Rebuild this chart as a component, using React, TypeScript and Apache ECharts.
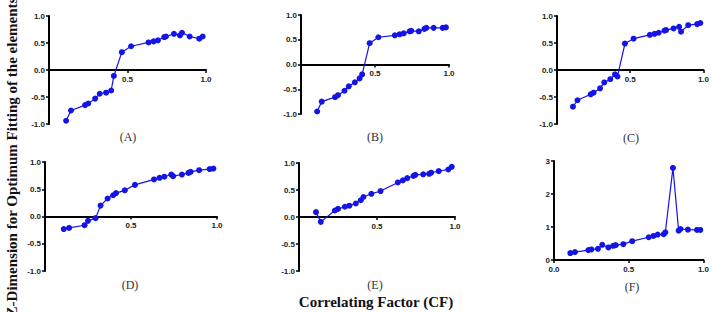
import React, { useEffect, useRef } from "react";
import * as echarts from "echarts";

const cfValues = [0.109, 0.14, 0.23, 0.25, 0.294, 0.323, 0.364, 0.396, 0.413, 0.464, 0.523, 0.634, 0.666, 0.694, 0.734, 0.745, 0.796, 0.834, 0.847, 0.896, 0.957, 0.979];

const seriesA = [-0.94, -0.75, -0.65, -0.62, -0.53, -0.44, -0.42, -0.38, -0.11, 0.33, 0.44, 0.51, 0.53, 0.55, 0.61, 0.62, 0.67, 0.64, 0.69, 0.62, 0.58, 0.62];
const seriesB = [-0.95, -0.75, -0.66, -0.62, -0.53, -0.44, -0.36, -0.28, -0.2, 0.43, 0.55, 0.59, 0.61, 0.63, 0.67, 0.68, 0.67, 0.72, 0.74, 0.74, 0.74, 0.75];
const seriesC = [-0.68, -0.56, -0.45, -0.42, -0.34, -0.23, -0.17, -0.08, -0.12, 0.49, 0.58, 0.65, 0.67, 0.69, 0.73, 0.74, 0.77, 0.8, 0.71, 0.83, 0.85, 0.87];
const seriesD = [-0.23, -0.21, -0.16, -0.08, -0.03, 0.2, 0.33, 0.39, 0.43, 0.48, 0.58, 0.68, 0.71, 0.73, 0.77, 0.74, 0.77, 0.8, 0.82, 0.85, 0.87, 0.88];
const seriesE = [0.09, -0.09, 0.12, 0.15, 0.19, 0.21, 0.25, 0.31, 0.37, 0.43, 0.48, 0.64, 0.68, 0.72, 0.76, 0.78, 0.79, 0.8, 0.82, 0.85, 0.88, 0.93];
const seriesF = [0.21, 0.24, 0.3, 0.32, 0.34, 0.46, 0.38, 0.43, 0.45, 0.48, 0.57, 0.69, 0.73, 0.77, 0.78, 0.84, 2.79, 0.89, 0.94, 0.92, 0.91, 0.91];

const panelLabels = ["(A)", "(B)", "(C)", "(D)", "(E)", "(F)"];
const xTitle = "Correlating Factor (CF)";
const yTitle = "Z-Dimension for Optimum Fitting of the elements";

const panels = [
  { data: seriesA, grid: { left: 49, top: 16, width: 157, height: 108 }, label: [128, 137], ymin: -1, ymax: 1, yint: 0.5 },
  { data: seriesB, grid: { left: 301, top: 15, width: 148, height: 99 }, label: [375, 137], ymin: -1, ymax: 1, yint: 0.5 },
  { data: seriesC, grid: { left: 557, top: 16, width: 147, height: 108 }, label: [631, 138], ymin: -1, ymax: 1, yint: 0.5 },
  { data: seriesD, grid: { left: 45, top: 162, width: 172, height: 109 }, label: [130, 285], ymin: -1, ymax: 1, yint: 0.5 },
  { data: seriesE, grid: { left: 299, top: 163, width: 156, height: 108 }, label: [375, 285], ymin: -1, ymax: 1, yint: 0.5 },
  { data: seriesF, grid: { left: 554, top: 161, width: 156, height: 99 }, label: [632, 287], ymin: 0, ymax: 3, yint: 1 },
];

export default function App() {
  const ref = useRef<HTMLDivElement>(null);
  useEffect(() => {
    document.body.style.margin = "0";
    if (!ref.current) return;
    const chart = echarts.init(ref.current, null, { renderer: "svg" });
    const axisLabelStyle = {
      fontFamily: "Liberation Sans, Arial, sans-serif",
      fontWeight: "bold" as const,
      fontSize: 8,
      color: "#222",
    };
    const option: any = {
      animation: false,
      backgroundColor: "#fff",
      grid: panels.map((p) => ({ ...p.grid, containLabel: false })),
      xAxis: panels.map((p, i) => ({
        type: "value",
        gridIndex: i,
        min: 0,
        max: 1,
        interval: 0.5,
        position: "bottom",
        // place the axis at y = 0 of the value scale
        offset: -p.grid.height * ((0 - p.ymin) / (p.ymax - p.ymin)),
        axisLine: { show: true, onZero: false, lineStyle: { color: "#000", width: 2 } },
        axisTick: { show: true, length: 3, lineStyle: { color: "#000", width: 1.5 } },
        splitLine: { show: false },
        axisLabel: {
          ...axisLabelStyle,
          margin: 5,
          formatter: (v: number) => (i < 5 && v === 0 ? "" : v.toFixed(1)),
        },
      })),
      yAxis: panels.map((p, i) => ({
        type: "value",
        gridIndex: i,
        min: p.ymin,
        max: p.ymax,
        interval: p.yint,
        axisLine: { show: true, onZero: false, lineStyle: { color: "#000", width: 2 } },
        axisTick: { show: true, length: 3, lineStyle: { color: "#000", width: 1.5 } },
        splitLine: { show: false },
        axisLabel: {
          ...axisLabelStyle,
          margin: 4,
          formatter: (v: number) => (p.yint === 1 ? String(v) : v.toFixed(1)),
        },
      })),
      series: panels.map((p, i) => ({
        type: "line",
        xAxisIndex: i,
        yAxisIndex: i,
        data: cfValues.map((x, j) => [x, p.data[j]]),
        symbol: "circle",
        symbolSize: 6,
        showSymbol: true,
        lineStyle: { color: "#1414e6", width: 1.2 },
        itemStyle: { color: "#1414e6" },
      })),
      graphic: [
        ...panels.map((p, i) => ({
          type: "text",
          x: p.label[0],
          y: p.label[1],
          style: {
            text: panelLabels[i],
            fontFamily: "Liberation Serif, Times New Roman, serif",
            fontSize: 12,
            fill: "#333",
            textAlign: "center",
            textVerticalAlign: "middle",
          },
        })),
        {
          type: "text",
          x: 376,
          y: 302,
          style: {
            text: xTitle,
            fontFamily: "Liberation Serif, Times New Roman, serif",
            fontSize: 15,
            fontWeight: "bold",
            fill: "#111",
            textAlign: "center",
            textVerticalAlign: "middle",
          },
        },
        {
          type: "text",
          x: 12,
          y: 157,
          rotation: Math.PI / 2,
          style: {
            text: yTitle,
            fontFamily: "Liberation Serif, Times New Roman, serif",
            fontSize: 15,
            fontWeight: "bold",
            fill: "#111",
            textAlign: "center",
            textVerticalAlign: "middle",
          },
        },
      ],
    };
    chart.setOption(option);
    return () => chart.dispose();
  }, []);
  return <div ref={ref} style={{ width: 712, height: 312 }} />;
}
